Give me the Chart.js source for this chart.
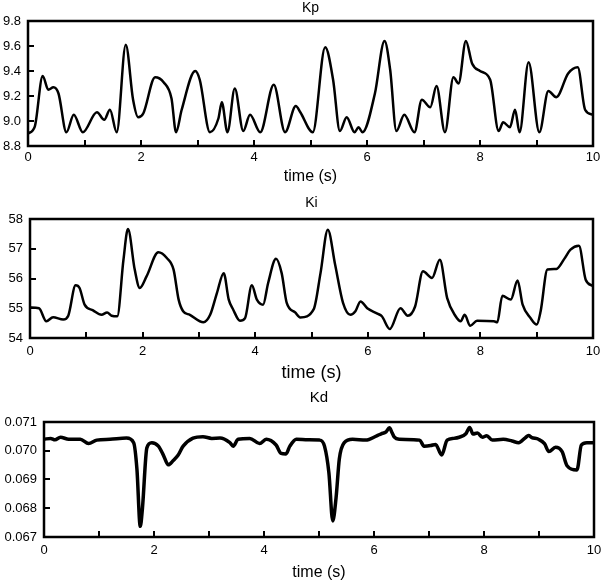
<html>
<head>
<meta charset="UTF-8">
<title>Kp, Ki, Kd over time</title>
<script src="https://cdn.jsdelivr.net/npm/chart.js@4.4.1/dist/chart.umd.min.js"></script>
<style>
  body { margin: 0; background: #fff; }
  #wrap { position: relative; width: 602px; height: 582px; }
  .panel { position: absolute; left: 0; }
</style>
</head>
<body>
<div id="wrap">
  <div class="panel" style="top:0px"><canvas id="kpChart" width="602" height="190"></canvas></div>
  <div class="panel" style="top:190px"><canvas id="kiChart" width="602" height="195"></canvas></div>
  <div class="panel" style="top:385px"><canvas id="kdChart" width="602" height="197"></canvas></div>
</div>
<script>
// gain values
var kpTime = [0, 0.12, 0.26, 0.36, 0.45, 0.54, 0.68, 0.81, 0.97, 1.22, 1.35, 1.45, 1.57, 1.73, 1.86, 1.95, 2.04, 2.25, 2.40, 2.54, 2.62, 2.72, 2.96, 3.04, 3.22, 3.37, 3.43, 3.53, 3.66, 3.81, 3.93, 4.11, 4.35, 4.55, 4.74, 4.82, 5.04, 5.26, 5.40, 5.52, 5.64, 5.78, 5.85, 5.92, 6.14, 6.31, 6.41, 6.52, 6.66, 6.84, 6.97, 7.12, 7.23, 7.38, 7.53, 7.62, 7.75, 7.86, 8.00, 8.18, 8.33, 8.41, 8.53, 8.62, 8.70, 8.86, 9.05, 9.21, 9.35, 9.56, 9.73, 9.86, 10.0];
var kpValues = [8.90, 8.955, 9.36, 9.25, 9.27, 9.22, 8.91, 9.05, 8.91, 9.07, 9.01, 9.09, 8.91, 9.61, 9.17, 9.03, 9.06, 9.35, 9.31, 9.18, 8.91, 9.09, 9.40, 9.33, 8.91, 9.02, 9.15, 8.91, 9.26, 8.92, 9.05, 8.91, 9.29, 8.91, 9.12, 9.07, 8.91, 9.59, 9.33, 8.92, 9.03, 8.91, 8.95, 8.91, 9.22, 9.64, 9.41, 8.92, 9.05, 8.91, 9.17, 9.11, 9.28, 8.91, 9.35, 9.30, 9.64, 9.46, 9.40, 9.33, 8.92, 8.99, 8.95, 9.09, 8.91, 9.47, 8.91, 9.24, 9.19, 9.38, 9.43, 9.09, 9.05];

var kiTime = [0, 0.16, 0.29, 0.41, 0.59, 0.68, 0.81, 0.88, 0.97, 1.12, 1.27, 1.37, 1.45, 1.55, 1.66, 1.74, 1.86, 1.95, 2.07, 2.28, 2.43, 2.55, 2.64, 2.72, 2.84, 3.08, 3.20, 3.32, 3.44, 3.53, 3.61, 3.73, 3.82, 3.94, 4.03, 4.14, 4.23, 4.37, 4.47, 4.56, 4.71, 4.80, 5.04, 5.16, 5.29, 5.42, 5.56, 5.69, 5.78, 5.87, 5.99, 6.17, 6.25, 6.39, 6.58, 6.71, 6.84, 6.98, 7.14, 7.28, 7.41, 7.56, 7.65, 7.72, 7.82, 7.94, 8.24, 8.30, 8.39, 8.54, 8.66, 8.75, 8.89, 9.00, 9.07, 9.19, 9.35, 9.49, 9.60, 9.75, 9.87, 10.0];
var kiValues = [55.03, 55.0, 54.56, 54.7, 54.62, 54.75, 55.77, 55.68, 55.12, 54.93, 54.78, 54.86, 54.75, 54.73, 56.63, 57.66, 56.30, 55.68, 56.07, 56.88, 56.69, 56.30, 55.29, 54.9, 54.78, 54.53, 54.78, 55.51, 56.18, 55.29, 54.95, 54.58, 54.67, 55.77, 55.29, 55.12, 55.85, 56.66, 56.18, 55.18, 54.86, 54.69, 54.97, 56.18, 57.64, 56.46, 55.18, 54.78, 54.9, 55.23, 55.0, 54.82, 54.73, 54.3, 55.0, 54.75, 55.06, 56.24, 56.02, 56.63, 55.34, 54.73, 54.56, 54.78, 54.41, 54.58, 54.56, 54.53, 55.42, 55.29, 55.93, 55.12, 54.67, 54.45, 54.9, 56.30, 56.32, 56.66, 56.97, 57.1, 55.96, 55.75];

var kdTime = [0, 0.12, 0.20, 0.30, 0.45, 0.66, 0.81, 0.96, 1.20, 1.50, 1.63, 1.69, 1.75, 1.79, 1.87, 1.96, 2.08, 2.17, 2.26, 2.35, 2.44, 2.53, 2.71, 2.89, 3.05, 3.20, 3.38, 3.44, 3.53, 3.74, 3.92, 4.04, 4.22, 4.31, 4.40, 4.47, 4.59, 4.80, 5.01, 5.10, 5.18, 5.25, 5.31, 5.37, 5.46, 5.61, 5.85, 6.05, 6.13, 6.22, 6.28, 6.33, 6.37, 6.46, 6.83, 6.91, 7.03, 7.12, 7.23, 7.33, 7.45, 7.55, 7.67, 7.74, 7.80, 7.88, 7.97, 8.05, 8.15, 8.35, 8.51, 8.63, 8.75, 8.81, 8.87, 8.99, 9.10, 9.18, 9.30, 9.42, 9.51, 9.69, 9.77, 9.87, 10.0];
var kdValues = [0.0704, 0.07043, 0.07038, 0.07047, 0.0704, 0.0704, 0.07025, 0.07037, 0.0704, 0.07044, 0.07028, 0.06935, 0.06737, 0.0680, 0.0701, 0.07028, 0.07016, 0.06985, 0.06951, 0.06966, 0.06985, 0.07016, 0.07044, 0.07049, 0.07043, 0.07044, 0.07028, 0.07016, 0.0704, 0.07043, 0.07025, 0.0704, 0.0702, 0.06991, 0.06989, 0.07016, 0.0704, 0.07038, 0.07037, 0.07016, 0.06923, 0.06756, 0.06836, 0.06972, 0.07028, 0.0704, 0.07037, 0.07052, 0.07059, 0.07066, 0.0708, 0.07062, 0.07047, 0.0704, 0.07037, 0.07016, 0.07018, 0.07022, 0.06985, 0.07037, 0.07043, 0.07047, 0.07059, 0.07081, 0.07058, 0.07062, 0.07047, 0.07052, 0.07037, 0.0704, 0.07034, 0.07028, 0.07045, 0.07053, 0.07046, 0.0704, 0.07025, 0.06997, 0.07012, 0.06997, 0.06948, 0.06933, 0.0702, 0.07028, 0.07028];

var timeTicks = [0, 2, 4, 6, 8, 10];

Chart.defaults.font.family = "'Liberation Sans', Arial, sans-serif";
Chart.defaults.color = '#000';

// box around the plot area plus short tick marks pointing inwards
var framePlugin = {
  id: 'frame',
  afterDatasetsDraw: function(chart) {
    var a = chart.chartArea, ctx = chart.ctx;
    var xs = chart.scales.x, ys = chart.scales.y;
    ctx.save();
    ctx.strokeStyle = '#000';
    ctx.lineWidth = 2;
    ctx.beginPath();
    xs.ticks.forEach(function(t) {
      var px = Math.round(xs.getPixelForValue(t.value));
      ctx.moveTo(px, a.bottom);
      ctx.lineTo(px, a.bottom - 6);
    });
    ys.ticks.forEach(function(t) {
      var py = Math.round(ys.getPixelForValue(t.value));
      ctx.moveTo(a.left, py);
      ctx.lineTo(a.left + 6, py);
    });
    ctx.stroke();
    ctx.lineWidth = 2.5;
    ctx.strokeRect(a.left, a.top, a.right - a.left, a.bottom - a.top);
    ctx.restore();
  }
};

function toPoints(xs, ys) {
  var pts = [];
  for (var i = 0; i < xs.length; i++) pts.push({x: xs[i], y: ys[i]});
  return pts;
}

function makeChart(id, cfg) {
  var ctx = document.getElementById(id).getContext('2d');
  return new Chart(ctx, {
    type: 'line',
    data: {
      datasets: [{
        data: toPoints(cfg.time, cfg.values),
        borderColor: '#000',
        borderWidth: cfg.lineWidth,
        pointRadius: 0,
        fill: false,
        cubicInterpolationMode: 'monotone'
      }]
    },
    plugins: [framePlugin],
    options: {
      responsive: false,
      animation: false,
      layout: { padding: { left: 0, right: cfg.padRight, top: 0, bottom: 0 } },
      plugins: {
        legend: { display: false },
        tooltip: { enabled: false },
        title: {
          display: true,
          text: cfg.title,
          fullSize: false,
          color: '#000',
          font: { size: cfg.titleSize, weight: 'normal' },
          padding: cfg.titlePad
        }
      },
      scales: {
        x: {
          type: 'linear',
          min: 0, max: 10,
          border: { color: '#000', width: 2 },
          grid: { drawOnChartArea: false, drawTicks: false },
          ticks: {
            stepSize: 1,
            padding: cfg.xTickPad,
            font: { size: 13 },
            callback: function(v) { return timeTicks.indexOf(v) >= 0 ? String(v) : ''; }
          },
          title: {
            display: true,
            text: 'time (s)',
            font: { size: cfg.xTitleSize },
            padding: { top: 0, bottom: cfg.xTitlePad }
          },
          afterFit: function(s) { s.height = cfg.xHeight; s.paddingLeft = 0; s.paddingRight = 0; }
        },
        y: {
          min: cfg.yMin, max: cfg.yMax,
          border: { color: '#000', width: 2 },
          grid: { drawOnChartArea: false, drawTicks: false },
          ticks: {
            stepSize: cfg.yStep,
            padding: 7,
            font: { size: 13 },
            callback: cfg.yLabel
          },
          afterFit: function(s) { s.width = cfg.yWidth; s.paddingTop = 0; s.paddingBottom = 0; }
        }
      }
    }
  });
}

makeChart('kpChart', {
  title: 'Kp', titleSize: 14, titlePad: { top: 0, bottom: 4.2 },
  time: kpTime, values: kpValues, lineWidth: 2.5,
  yMin: 8.8, yMax: 9.8, yStep: 0.1, yWidth: 28, padRight: 9,
  yLabel: function(v) { return Math.round(v * 10) % 2 === 0 ? v.toFixed(1) : ''; },
  xHeight: 44, xTickPad: 4, xTitleSize: 16, xTitlePad: 3.4
});

makeChart('kiChart', {
  title: 'Ki', titleSize: 14, titlePad: { top: 4.6, bottom: 7.6 },
  time: kiTime, values: kiValues, lineWidth: 2.5,
  yMin: 54, yMax: 58, yStep: 0.5, yWidth: 30, padRight: 9,
  yLabel: function(v) { return Math.round(v * 2) % 2 === 0 ? String(Math.round(v)) : ''; },
  xHeight: 47, xTickPad: 6, xTitleSize: 18, xTitlePad: 1.2
});

makeChart('kdChart', {
  title: 'Kd', titleSize: 15, titlePad: { top: 4, bottom: 15 },
  time: kdTime, values: kdValues, lineWidth: 3.5,
  yMin: 0.067, yMax: 0.071, yStep: 0.0005, yWidth: 44, padRight: 8,
  yLabel: function(v) { return Math.round(v * 2000) % 2 === 0 ? v.toFixed(3) : ''; },
  xHeight: 45, xTickPad: 6, xTitleSize: 16, xTitlePad: 0
});
</script>
</body>
</html>
